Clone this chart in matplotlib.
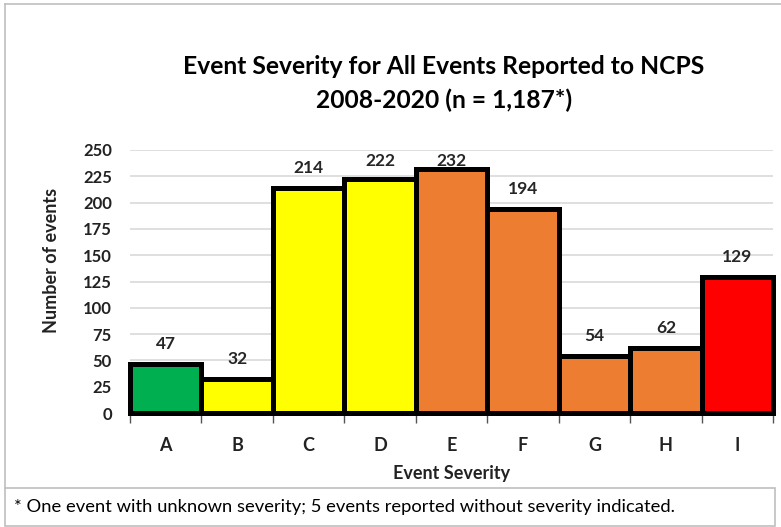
import matplotlib
matplotlib.use("Agg")
import matplotlib.pyplot as plt
from matplotlib.lines import Line2D
from matplotlib.patches import Rectangle

categories = ["A", "B", "C", "D", "E", "F", "G", "H", "I"]
values = [47, 32, 214, 222, 232, 194, 54, 62, 129]
colors = ["#00B050", "#FFFF00", "#FFFF00", "#FFFF00", "#ED7D31", "#ED7D31", "#ED7D31", "#ED7D31", "#FF0000"]
yticks = [0, 25, 50, 75, 100, 125, 150, 175, 200, 225, 250]

plt.rcParams['font.family'] = ['Lato', 'DejaVu Sans']

W, H = 781, 527
fig = plt.figure(figsize=(W / 100, H / 100), dpi=100)

def fx(px):
    return px / W

def fy(py):
    return 1 - py / H

ax = fig.add_axes([fx(130), fy(413), fx(773) - fx(130), fy(150) - fy(413)])
x = list(range(len(categories)))
bars = ax.bar(x, values, width=1.0, color=colors, edgecolor="black", linewidth=3.6, zorder=3)
for b in bars:
    b.set_clip_on(False)
ax.set_xlim(-0.5, len(categories) - 0.5)
ax.set_ylim(0, 250)
ax.set_yticks(yticks)
ax.set_yticklabels([str(v) for v in yticks], fontsize=12, fontweight="bold", color="#222222")
ax.set_xticks(x)
ax.set_xticklabels(categories, fontsize=13, fontweight="bold", color="#222222")
ax.tick_params(axis="x", which="major", length=0, pad=17)
ax.tick_params(axis="y", length=0, pad=13)
ax.set_xticks([i - 0.5 for i in range(len(categories) + 1)], minor=True)
ax.tick_params(axis="x", which="minor", length=7, width=1, color="#555555")
for s in ["left", "right", "top"]:
    ax.spines[s].set_visible(False)
ax.spines["bottom"].set_color("#555555")
ax.grid(axis="y", color="#d9d9d9", linewidth=1.2, zorder=0)
ax.set_axisbelow(True)

for xi, v in zip(x, values):
    ly = min(v + 19, 240)
    ax.text(xi, ly, str(v), ha="center", va="center", fontsize=12.5,
            fontweight="bold", color="#262626", zorder=5, clip_on=False)

ax.set_xlabel("Event Severity", fontsize=13, fontweight="bold", labelpad=8, color="#222222")
fig.text(fx(52), fy(260), "Number of events", rotation=90, ha="center", va="center",
         fontsize=13, fontweight="bold", color="#222222")

fig.text(fx(444), fy(66), "Event Severity for All Events Reported to NCPS", ha="center", va="center",
         fontsize=17.7, fontweight="bold")
fig.text(fx(444), fy(100), "2008-2020 (n = 1,187*)", ha="center", va="center",
         fontsize=17.7, fontweight="bold")

# outer chart frame lines
fig.add_artist(Line2D([fx(5), fx(5)], [fy(4), fy(488)], color="#bfbfbf", linewidth=1.2))
fig.add_artist(Line2D([fx(5), 1], [fy(4), fy(4)], color="#bfbfbf", linewidth=1.2))

# footnote box
fig.add_artist(Rectangle((fx(5), fy(526)), fx(775) - fx(5), fy(488) - fy(526),
                         facecolor="white", edgecolor="#bfbfbf", linewidth=1.2))
fig.text(fx(14), fy(507), "* One event with unknown severity; 5 events reported without severity indicated.",
         ha="left", va="center", fontsize=13.2)

fig.savefig("out.png", dpi=100)
